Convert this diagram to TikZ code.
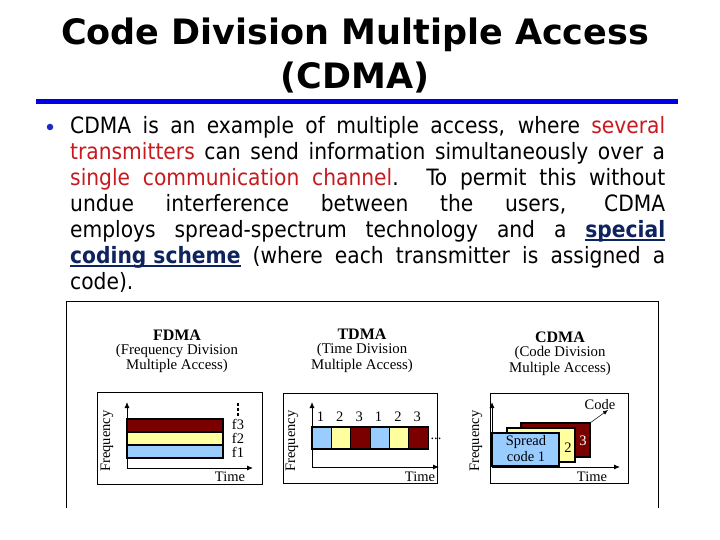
\documentclass[tikz,border=0pt]{standalone}
\usepackage{fontspec}
\usetikzlibrary{arrows.meta}
\setmainfont{Liberation Serif}
\newfontfamily\titlefont{DejaVu Sans}
\newfontfamily\bodyfont{DejaVu Sans Condensed}
\definecolor{rulecol}{RGB}{0,0,230}
\definecolor{bulcol}{RGB}{30,40,200}
\definecolor{hired}{RGB}{200,25,30}
\definecolor{navy}{RGB}{15,35,95}
\definecolor{bandred}{RGB}{122,0,0}
\definecolor{bandyel}{RGB}{255,255,160}
\definecolor{bandblue}{RGB}{153,204,255}
\newcommand\myul[1]{\setbox0\hbox{#1}\rlap{\rule[-3pt]{\wd0}{1.4pt}}\box0}
\begin{document}
\begin{tikzpicture}[x=1pt,y=-1pt,
  titletext/.style={font=\titlefont\bfseries\fontsize{35}{38}\selectfont, inner sep=0pt},
  paneltitle/.style={font=\bfseries\fontsize{16}{17}\selectfont, inner sep=0pt},
  panelsub/.style={font=\fontsize{14.8}{16}\selectfont, inner sep=0pt},
  lbl/.style={font=\fontsize{14.5}{15}\selectfont, inner sep=0pt},
  panelbox/.style={draw=black, line width=0.7pt},
  axisline/.style={-{Latex[length=6pt,width=5pt]}, line width=0.9pt},
  band/.style={draw=black, line width=1.1pt},
  thinarrow/.style={-{Latex[length=5pt,width=4pt]}, line width=0.5pt},
]
\useasboundingbox (0,0) rectangle (720,540);
\fill[white] (0,0) rectangle (720,540);

% title
\node[titletext] (t1) at (355,35) {Code Division Multiple Access};
\node[titletext] (t2) at (355,78) {(CDMA)};
\fill[rulecol] (36,99) rectangle (678,104);

% bullet text
\node[circle, fill=bulcol, minimum size=6.5pt, inner sep=0pt] (bul) at (50,127) {};
\node[anchor=north west, inner sep=0pt, text width=595pt, align=justify,
      font=\bodyfont\fontsize{22.5}{26}\selectfont] (body) at (70,116.5) {%
CDMA is an example of multiple access, where {\color{hired}several}\linebreak
{\color{hired}transmitters} can send information simultaneously over a\linebreak
{\color{hired}single communication channel}. To permit this without\linebreak
undue interference between the users, CDMA\linebreak
employs spread-spectrum technology and a {\color{navy}\bfseries\myul{special}}\linebreak
{\color{navy}\bfseries\myul{coding scheme}} (where each transmitter is assigned a\linebreak
code).};

% outer frame
\draw[line width=0.8pt] (66,508) -- (66,301) -- (658,301) -- (658,508);

% ---------- FDMA ----------
\node[paneltitle] (fdma) at (177,335) {FDMA};
\node[panelsub] (fdma1) at (177,351) {(Frequency Division};
\node[panelsub] (fdma2) at (177,366) {Multiple Access)};
\draw[panelbox] (97,392) rectangle (262,484);
\coordinate (fo) at (127,468);
\coordinate (fy) at (127,402);
\coordinate (fx) at (253,468);
\draw[axisline] (fo) -- (fy);
\draw[axisline] (fo) -- (fx);
\draw[band, fill=bandred] (127,419) rectangle (223,432);
\draw[band, fill=bandyel] (127,432) rectangle (223,445);
\draw[band, fill=bandblue] (127,445) rectangle (223,458);
\node[lbl] (f3) at (238,424) {f3};
\node[lbl] (f2) at (238,438) {f2};
\node[lbl] (f1) at (238,452) {f1};
\fill (236.6,403) rectangle (239.4,405.8);
\fill (236.6,408) rectangle (239.4,410.8);
\fill (236.6,413) rectangle (239.4,415.8);
\node[lbl] (ftime) at (230,477) {Time};
\node[lbl, rotate=90] (ffreq) at (107,441) {Frequency};

% ---------- TDMA ----------
\node[paneltitle] (tdma) at (362,334) {TDMA};
\node[panelsub] (tdma1) at (362,350) {(Time Division};
\node[panelsub] (tdma2) at (362,366) {Multiple Access)};
\draw[panelbox] (283,393) rectangle (437,483);
\coordinate (to) at (312,467);
\coordinate (ty) at (312,402);
\coordinate (tx) at (439,467);
\draw[axisline] (to) -- (ty);
\draw[axisline] (to) -- (tx);
\foreach \i/\c/\n in {0/bandblue/1,1/bandyel/2,2/bandred/3,3/bandblue/1,4/bandyel/2,5/bandred/3}{
  \draw[band, fill=\c] ({312+\i*19.35},427) rectangle ({312+(\i+1)*19.35},449);
  \node[lbl] (slot\i) at ({320.5+\i*19.35},417) {\n};
}
\node[lbl] (tdots) at (436,439) {...};
\node[lbl] (ttime) at (420,477) {Time};
\node[lbl, rotate=90] (tfreq) at (292,441) {Frequency};

% ---------- CDMA ----------
\node[paneltitle] (cdma) at (560,337) {CDMA};
\node[panelsub] (cdma1) at (560,353) {(Code Division};
\node[panelsub] (cdma2) at (560,369) {Multiple Access)};
\draw[panelbox] (490,393) rectangle (628,483);
\coordinate (co) at (492,467);
\coordinate (cy) at (492,402);
\coordinate (cx) at (620,467);
\draw[band, fill=bandred] (521,423) rectangle (590,457);
\draw[band, fill=bandyel] (507,428) rectangle (575,462);
\draw[band, fill=bandblue] (492,433) rectangle (559,466);
\draw[axisline] (co) -- (cy);
\draw[axisline] (co) -- (cx);
\node[lbl] (spread) at (526,442) {Spread};
\node[lbl] (code1) at (526,457) {code 1};
\node[lbl] (two) at (568,448) {2};
\node[lbl, text=white] (three) at (583,441) {3};
\node[lbl] (codelbl) at (600,405) {Code};
\coordinate (r3ne) at (590,423);
\coordinate (codetip) at (608,410);
\draw[thinarrow] (r3ne) -- (codetip);
\node[lbl] (ctime) at (592,477) {Time};
\node[lbl, rotate=90] (cfreq) at (476,441) {Frequency};
\end{tikzpicture}
\end{document}
